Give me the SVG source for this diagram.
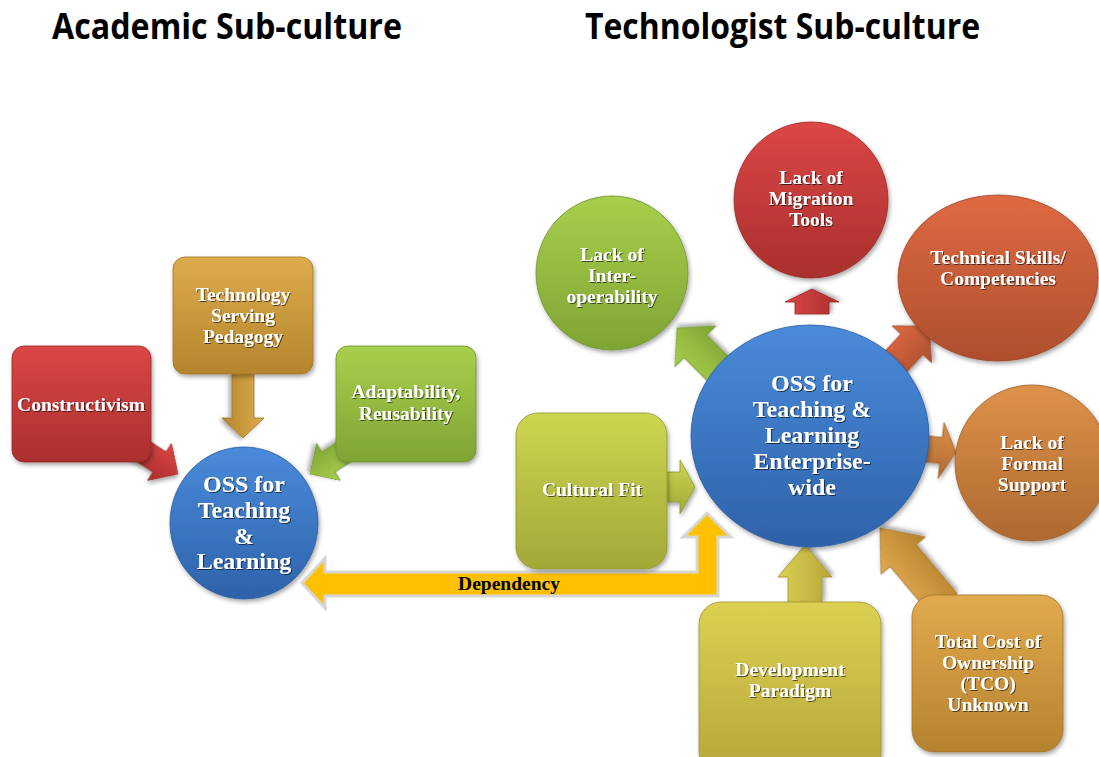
<svg xmlns="http://www.w3.org/2000/svg" width="1099" height="757" viewBox="0 0 1099 757">
<style>
.title{font-family:"Open Sans","Liberation Sans",sans-serif;font-weight:bold;font-size:35px;fill:#000}
.lbl{font-family:"Liberation Serif","Times New Roman",serif;font-weight:bold;fill:#fff;text-anchor:middle;filter:url(#tsh)}
.s17{font-size:19.5px}
.s22{font-size:24px}
.s24{font-size:24px}
.shape{filter:url(#sh)}
.dep{font-family:"Liberation Serif","Times New Roman",serif;font-weight:bold;font-size:19.5px;fill:#000;text-anchor:middle}
</style>
<defs>
<filter id="sh" x="-20%" y="-20%" width="140%" height="140%"><feDropShadow dx="1.5" dy="2.5" stdDeviation="2" flood-color="#000" flood-opacity="0.35"/></filter>
<filter id="tsh" x="-10%" y="-30%" width="120%" height="160%"><feDropShadow dx="1" dy="1" stdDeviation="0.7" flood-color="#000" flood-opacity="0.6"/></filter>
<linearGradient id="gRed" x1="0" y1="0" x2="0" y2="1"><stop offset="0" stop-color="#DC4646"/><stop offset="1" stop-color="#A92F2D"/></linearGradient>
<linearGradient id="gGold" x1="0" y1="0" x2="0" y2="1"><stop offset="0" stop-color="#DCAC4C"/><stop offset="1" stop-color="#B5852D"/></linearGradient>
<linearGradient id="gGreen" x1="0" y1="0" x2="0" y2="1"><stop offset="0" stop-color="#A8CF4C"/><stop offset="1" stop-color="#7FA434"/></linearGradient>
<linearGradient id="gBlue" x1="0" y1="0" x2="0" y2="1"><stop offset="0" stop-color="#4A8BDA"/><stop offset="1" stop-color="#2E62A9"/></linearGradient>
<linearGradient id="gOrRed" x1="0" y1="0" x2="0" y2="1"><stop offset="0" stop-color="#DE6A42"/><stop offset="1" stop-color="#AE4F2E"/></linearGradient>
<linearGradient id="gOrange" x1="0" y1="0" x2="0" y2="1"><stop offset="0" stop-color="#DE924A"/><stop offset="1" stop-color="#AE6930"/></linearGradient>
<linearGradient id="gLime" x1="0" y1="0" x2="0" y2="1"><stop offset="0" stop-color="#CDD650"/><stop offset="1" stop-color="#A2A838"/></linearGradient>
<linearGradient id="gYel" x1="0" y1="0" x2="0" y2="1"><stop offset="0" stop-color="#DCD052"/><stop offset="1" stop-color="#B6A63A"/></linearGradient>
<linearGradient id="gTco" x1="0" y1="0" x2="0" y2="1"><stop offset="0" stop-color="#E2AA4E"/><stop offset="1" stop-color="#B5822E"/></linearGradient>
</defs>
<rect width="1099" height="757" fill="#fff"/>

<text class="title" x="52" y="39" textLength="350" lengthAdjust="spacingAndGlyphs">Academic Sub-culture</text>
<text class="title" x="585" y="39" textLength="395" lengthAdjust="spacingAndGlyphs">Technologist Sub-culture</text>

<g id="connectors">
<path class="shape" fill="url(#gRed)" stroke="#962826" stroke-width="0.8" transform="translate(178,474) rotate(33)" d="M0,0 L-22,-22 L-22,-12 L-58,-12 L-58,12 L-22,12 L-22,22 Z"/>
<path class="shape" fill="url(#gGold)" stroke="#A0762A" stroke-width="0.8" transform="translate(243,438) rotate(90)" d="M0,0 L-20,-21 L-20,-11 L-64,-11 L-64,11 L-20,11 L-20,21 Z"/>
<path class="shape" fill="url(#gGreen)" stroke="#6E9230" stroke-width="0.8" transform="translate(310,474) rotate(147)" d="M0,0 L-22,-22 L-22,-12 L-58,-12 L-58,12 L-22,12 L-22,22 Z"/>
<path class="shape" fill="url(#gGreen)" stroke="#6E9230" stroke-width="0.8" transform="translate(677,328) rotate(-135)" d="M0,0 L-26,-29 L-26,-16 L-62,-16 L-62,16 L-26,16 L-26,29 Z"/>
<path class="shape" fill="url(#gRed)" stroke="#962826" stroke-width="0.8" transform="translate(812,289) rotate(-90)" d="M0,0 L-13,-27 L-13,-17 L-25,-17 L-25,17 L-13,17 L-13,27 Z"/>
<path class="shape" fill="url(#gOrRed)" stroke="#9A4428" stroke-width="0.8" transform="translate(929,326) rotate(-47)" d="M0,0 L-25,-27 L-25,-15 L-55,-15 L-55,15 L-25,15 L-25,27 Z"/>
<path class="shape" fill="url(#gOrange)" stroke="#9A5C2A" stroke-width="0.8" transform="translate(956,452) rotate(6)" d="M0,0 L-15,-28 L-15,-13 L-30,-13 L-30,13 L-15,13 L-15,28 Z"/>
<path class="shape" fill="url(#gLime)" stroke="#8E9430" stroke-width="0.8" transform="translate(695,487) rotate(0)" d="M0,0 L-15,-27 L-15,-15 L-30,-15 L-30,15 L-15,15 L-15,27 Z"/>
<path class="shape" fill="url(#gYel)" stroke="#A09230" stroke-width="0.8" transform="translate(805,545) rotate(-90)" d="M0,0 L-32,-27 L-32,-17 L-58,-17 L-58,17 L-32,17 L-32,27 Z"/>
<path class="shape" fill="url(#gTco)" stroke="#A0742A" stroke-width="0.8" transform="translate(880,528) rotate(-130)" d="M0,0 L-36,-29 L-36,-17 L-100,-17 L-100,17 L-36,17 L-36,29 Z"/>
<path id="dependency" fill="#FFC000" stroke="#D6D6D6" stroke-width="3" stroke-linejoin="miter" d="M302,583 L325,558 L325,572 L697,572 L697,537 L683,537 L707,513 L731,537 L718,537 L718,596 L325,596 L325,608 Z"/>
<text class="dep" x="509" y="590">Dependency</text>
</g>

<g id="constructivism">
<rect class="shape" x="12" y="346" width="139" height="116" rx="12" fill="url(#gRed)" stroke="#962826" stroke-width="0.8"/>
<text class="lbl s17" x="81" y="411">Constructivism</text>
</g>
<g id="tech-serving-pedagogy">
<rect class="shape" x="173" y="257" width="140" height="117" rx="12" fill="url(#gGold)" stroke="#A0762A" stroke-width="0.8"/>
<text class="lbl s17" x="243" y="301">Technology</text>
<text class="lbl s17" x="243" y="322">Serving</text>
<text class="lbl s17" x="243" y="343">Pedagogy</text>
</g>
<g id="adaptability">
<rect class="shape" x="336" y="346" width="140" height="116" rx="12" fill="url(#gGreen)" stroke="#6E9230" stroke-width="0.8"/>
<text class="lbl s17" x="406" y="398">Adaptability,</text>
<text class="lbl s17" x="406" y="420">Reusability</text>
</g>
<g id="oss-left">
<ellipse class="shape" cx="244" cy="523" rx="74" ry="76" fill="url(#gBlue)" stroke="#285A9C" stroke-width="0.8"/>
<text class="lbl s24" x="244" y="492">OSS for</text>
<text class="lbl s24" x="244" y="518">Teaching</text>
<text class="lbl s24" x="244" y="544">&amp;</text>
<text class="lbl s24" x="244" y="569">Learning</text>
</g>

<g id="oss-enterprise">
<ellipse class="shape" cx="810" cy="436" rx="119" ry="111" fill="url(#gBlue)" stroke="#285A9C" stroke-width="0.8"/>
<text class="lbl s22" x="812" y="391">OSS for</text>
<text class="lbl s22" x="812" y="417">Teaching &amp;</text>
<text class="lbl s22" x="812" y="443">Learning</text>
<text class="lbl s22" x="812" y="469">Enterprise-</text>
<text class="lbl s22" x="812" y="495">wide</text>
</g>
<g id="migration">
<ellipse class="shape" cx="811" cy="200" rx="77" ry="78" fill="url(#gRed)" stroke="#962826" stroke-width="0.8"/>
<text class="lbl s17" x="811" y="184">Lack of</text>
<text class="lbl s17" x="811" y="205">Migration</text>
<text class="lbl s17" x="811" y="226">Tools</text>
</g>
<g id="interoperability">
<ellipse class="shape" cx="612" cy="273" rx="76" ry="77" fill="url(#gGreen)" stroke="#6E9230" stroke-width="0.8"/>
<text class="lbl s17" x="612" y="261">Lack of</text>
<text class="lbl s17" x="612" y="282">Inter-</text>
<text class="lbl s17" x="612" y="303">operability</text>
</g>
<g id="technical-skills">
<ellipse class="shape" cx="998" cy="278" rx="100" ry="83" fill="url(#gOrRed)" stroke="#9A4428" stroke-width="0.8"/>
<text class="lbl s17" x="998" y="264">Technical Skills/</text>
<text class="lbl s17" x="998" y="285">Competencies</text>
</g>
<g id="formal-support">
<ellipse class="shape" cx="1032" cy="463" rx="77" ry="78" fill="url(#gOrange)" stroke="#9A5C2A" stroke-width="0.8"/>
<text class="lbl s17" x="1032" y="449">Lack of</text>
<text class="lbl s17" x="1032" y="470">Formal</text>
<text class="lbl s17" x="1032" y="491">Support</text>
</g>
<g id="cultural-fit">
<rect class="shape" x="516" y="413" width="151" height="156" rx="22" fill="url(#gLime)" stroke="#8E9430" stroke-width="0.8"/>
<text class="lbl s17" x="592" y="496">Cultural Fit</text>
</g>
<g id="development-paradigm">
<rect class="shape" x="699" y="602" width="182" height="172" rx="22" fill="url(#gYel)" stroke="#A09230" stroke-width="0.8"/>
<text class="lbl s17" x="790" y="676">Development</text>
<text class="lbl s17" x="790" y="697">Paradigm</text>
</g>
<g id="tco">
<rect class="shape" x="912" y="595" width="151" height="157" rx="22" fill="url(#gTco)" stroke="#A0742A" stroke-width="0.8"/>
<text class="lbl s17" x="988" y="648">Total Cost of</text>
<text class="lbl s17" x="988" y="669">Ownership</text>
<text class="lbl s17" x="988" y="690">(TCO)</text>
<text class="lbl s17" x="988" y="711">Unknown</text>
</g>
</svg>
